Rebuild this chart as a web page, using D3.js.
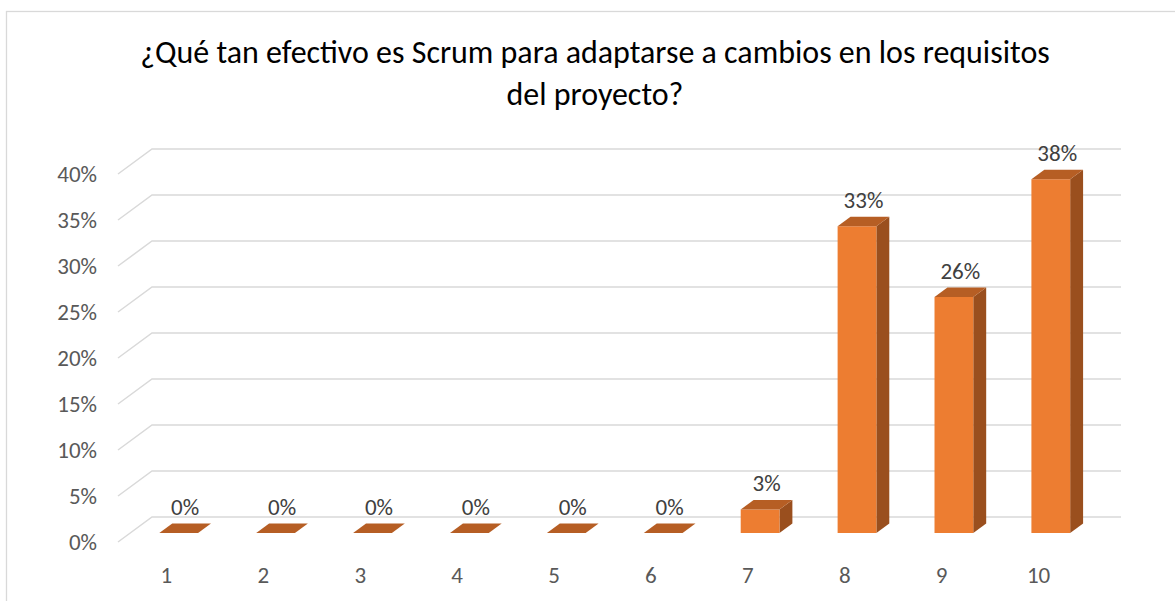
<!DOCTYPE html>
<html>
<head>
<meta charset="utf-8">
<script src="https://cdn.jsdelivr.net/npm/d3@7"></script>
<style>
  html, body { margin: 0; padding: 0; background: #fff; }
  svg { display: block; }
  text { font-family: Carlito, Calibri, "Open Sans", "Noto Sans", sans-serif; }
</style>
</head>
<body>
<svg id="chart" width="1175" height="601"></svg>
<script>
// ---- data ----
const titleLines = ["¿Qué tan efectivo es Scrum para adaptarse a cambios en los requisitos", "del proyecto?"];
const categories = ["1", "2", "3", "4", "5", "6", "7", "8", "9", "10"];
const values = [0, 0, 0, 0, 0, 0, 0.0256, 0.3333, 0.2564, 0.3846];
const yTicks = [0, 0.05, 0.10, 0.15, 0.20, 0.25, 0.30, 0.35, 0.40];

// ---- layout ----
const W = 1175, H = 601;
const svg = d3.select("#chart");

const depthX = 34, depthY = 25;          // wall depth offset
const barZ0 = 0.36, barZ1 = 0.74;        // bar depth range (fraction of wall depth)
const offX = z => z * depthX;
const offY = z => -z * depthY;

const x = d3.scaleBand().domain(categories).range([118, 1087]).padding(0);
const y = d3.scaleLinear().domain([0, 0.4]).range([542, 174]);
const barW = x.bandwidth() * 0.4;
const fmt = d3.format(".0%");

// chart border
svg.append("rect")
  .attr("x", 6.5).attr("y", 11.5).attr("width", W).attr("height", H)
  .attr("fill", "#fff").attr("stroke", "#D9D9D9").attr("stroke-width", 1.3);

// title
const title = svg.append("text")
  .attr("text-anchor", "middle")
  .attr("fill", "#000")
  .attr("font-size", 26);
titleLines.forEach((t, i) => {
  title.append("tspan").attr("x", 595).attr("y", 63 + i * 42).text(t);
});
// fit title width to the reference line width
const firstLen = title.select("tspan").node().getComputedTextLength();
title.attr("font-size", 26 * 910 / firstLen);

// gridlines (floor diagonal + back wall)
const [x0, x1] = x.range();
svg.append("g").selectAll("path")
  .data(yTicks)
  .join("path")
  .attr("d", t => {
    const yf = y(t);
    return `M${x0},${yf}L${x0 + depthX},${yf - depthY}L${x1 + depthX},${yf - depthY}`;
  })
  .attr("fill", "none")
  .attr("stroke", "#D9D9D9")
  .attr("stroke-width", 1.5);

// y-axis labels
svg.append("g").selectAll("text")
  .data(yTicks)
  .join("text")
  .attr("x", 97)
  .attr("y", t => y(t) + 8)
  .attr("text-anchor", "end")
  .attr("font-size", 23)
  .attr("fill", "#595959")
  .text(d3.format(".0%"));

// category labels
svg.append("g").selectAll("text")
  .data(categories)
  .join("text")
  .attr("x", c => x(c) + x.bandwidth() / 2)
  .attr("y", 583)
  .attr("text-anchor", "middle")
  .attr("font-size", 23)
  .attr("fill", "#595959")
  .text(c => c);

// 3D bars
const bars = svg.append("g").selectAll("g")
  .data(categories.map((c, i) => ({ c, v: values[i] })))
  .join("g");

bars.each(function (d) {
  const g = d3.select(this);
  const cx = x(d.c) + x.bandwidth() / 2;
  const xl = cx - barW / 2, xr = cx + barW / 2;
  const yt = y(d.v), yb = y(0);
  const ox0 = offX(barZ0), oy0 = offY(barZ0), ox1 = offX(barZ1), oy1 = offY(barZ1);
  if (d.v > 0) {
    // side face
    g.append("path")
      .attr("d", `M${xr + ox0},${yt + oy0}L${xr + ox1},${yt + oy1}L${xr + ox1},${yb + oy1}L${xr + ox0},${yb + oy0}Z`)
      .attr("fill", "#9A4F1E");
    // front face
    g.append("path")
      .attr("d", `M${xl + ox0},${yt + oy0}L${xr + ox0},${yt + oy0}L${xr + ox0},${yb + oy0}L${xl + ox0},${yb + oy0}Z`)
      .attr("fill", "#ED7D31");
  }
  // top face
  g.append("path")
    .attr("d", `M${xl + ox0},${yt + oy0}L${xr + ox0},${yt + oy0}L${xr + ox1},${yt + oy1}L${xl + ox1},${yt + oy1}Z`)
    .attr("fill", "#B65E24");
  // data label
  const zm = (barZ0 + barZ1) / 2;
  g.append("text")
    .attr("x", cx + offX(zm))
    .attr("y", yt + oy1 - 9)
    .attr("text-anchor", "middle")
    .attr("font-size", 23)
    .attr("fill", "#404040")
    .text(fmt(d.v));
});
</script>
</body>
</html>
